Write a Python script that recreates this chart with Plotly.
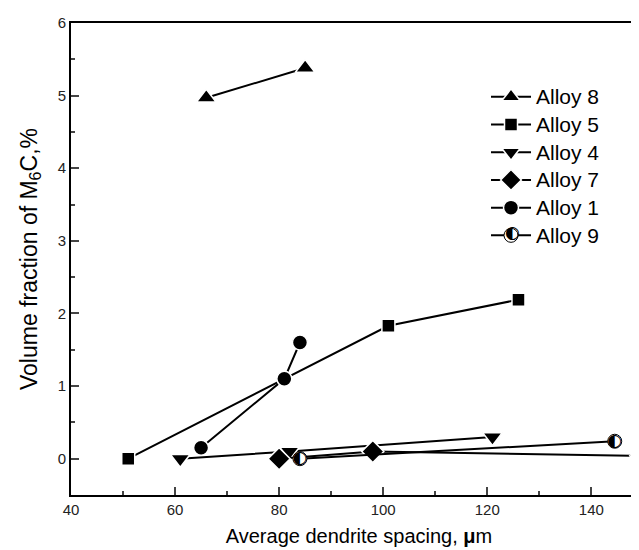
import plotly.graph_objects as go

alloy8_x = [66, 85]
alloy8_y = [4.97, 5.38]
alloy5_x = [51, 101, 126]
alloy5_y = [0.0, 1.83, 2.19]
alloy4_x = [61, 82, 121]
alloy4_y = [0.0, 0.10, 0.30]
alloy7_x = [80, 98, 149.5]
alloy7_y = [0.0, 0.10, 0.04]
alloy1_x = [65, 81, 84]
alloy1_y = [0.15, 1.10, 1.60]
alloy9_x = [84, 144.5]
alloy9_y = [0.0, 0.24]

x_ticks = [40, 60, 80, 100, 120, 140]
y_ticks = [0, 1, 2, 3, 4, 5, 6]

FONT = "Liberation Sans, Arial, sans-serif"

def leg(name):
    return '<span style="font-size:21px">' + name + '</span>'

series = [
    ("Alloy 8", alloy8_x, alloy8_y, "triangle-up", 17),
    ("Alloy 5", alloy5_x, alloy5_y, "square", 13),
    ("Alloy 4", alloy4_x, alloy4_y, "triangle-down", 17),
    ("Alloy 7", alloy7_x, alloy7_y, "diamond", 17),
    ("Alloy 1", alloy1_x, alloy1_y, "circle", 15),
]

fig = go.Figure()
for name, xs, ys, sym, sz in series:
    fig.add_trace(go.Scatter(
        x=xs, y=ys, name=leg(name), mode="lines+markers",
        line=dict(color="black", width=2),
        marker=dict(symbol=sym, size=sz, color="black",
                    line=dict(color="white", width=1.5)),
    ))

fig.add_trace(go.Scatter(
    x=alloy9_x, y=alloy9_y, name=leg("Alloy 9"), mode="lines+markers",
    line=dict(color="black", width=2),
    marker=dict(symbol="circle", size=14, color="white",
                line=dict(color="black", width=1)),
))
fig.add_trace(go.Scatter(
    x=alloy9_x, y=alloy9_y, mode="text", text=["◐"] * len(alloy9_x),
    textposition="middle center",
    textfont=dict(family="DejaVu Sans", size=17, color="black"),
    showlegend=False, hoverinfo="skip",
))

fig.update_layout(
    width=639, height=550,
    margin=dict(l=63, r=0, t=15, b=63),
    plot_bgcolor="white", paper_bgcolor="white",
    font=dict(family=FONT, color="black", size=15),
    showlegend=True,
    legend=dict(x=0.7205, y=0.8835, xanchor="left", yanchor="top",
                bgcolor="rgba(0,0,0,0)", font=dict(size=19, family=FONT),
                itemwidth=40),
    annotations=[dict(
        text="◐", xref="paper", yref="paper", x=0.767, y=0.557,
        xanchor="center", yanchor="middle", showarrow=False,
        font=dict(family="DejaVu Sans", size=17, color="black"),
    )],
)

fig.update_xaxes(
    range=[40, 150.7], tickvals=x_ticks, ticks="inside", ticklen=8, tickwidth=2,
    showline=True, linecolor="black", linewidth=2, mirror=True,
    showgrid=False, zeroline=False, automargin=False,
    tickfont=dict(size=15, color="#222"),
    minor=dict(ticks="inside", ticklen=4, tickwidth=2, dtick=10, tick0=40, showgrid=False),
    title=dict(text="Average dendrite spacing, <b>μ</b>m", font=dict(size=20), standoff=12),
)
fig.update_yaxes(
    range=[-0.5, 6], tickvals=y_ticks, ticks="inside", ticklen=8, tickwidth=2,
    showline=True, linecolor="black", linewidth=2,
    showgrid=False, zeroline=False, automargin=False,
    tickfont=dict(size=15, color="#222"),
    minor=dict(ticks="inside", ticklen=4, tickwidth=2, dtick=0.5, tick0=0, showgrid=False),
    title=dict(text="Volume fraction of M<sub>6</sub>C,%", font=dict(size=23), standoff=14),
)

fig.write_html("out.html")
